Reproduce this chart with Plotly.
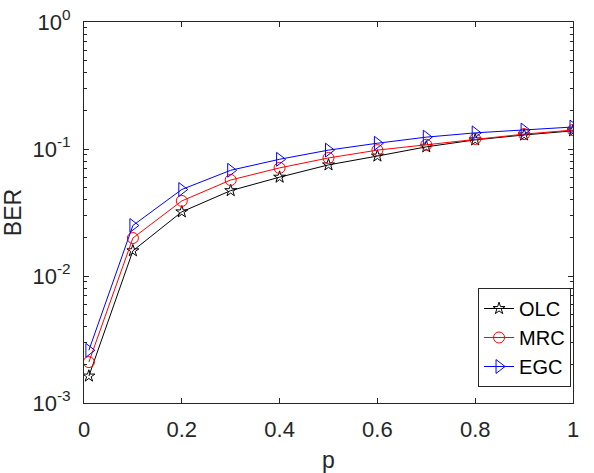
import plotly.graph_objects as go

p = [0.01, 0.1, 0.2, 0.3, 0.4, 0.5, 0.6, 0.7, 0.8, 0.9, 1.0]
ber_olc = [1.63e-3, 0.0158, 0.032, 0.047, 0.060, 0.075, 0.088, 0.104, 0.118, 0.129, 0.139]
ber_mrc = [2.1e-3, 0.0199, 0.039, 0.057, 0.071, 0.085, 0.098, 0.108, 0.120, 0.131, 0.141]
ber_egc = [2.6e-3, 0.025, 0.048, 0.068, 0.083, 0.098, 0.111, 0.124, 0.134, 0.141, 0.149]

x_ticks = [0, 0.2, 0.4, 0.6, 0.8, 1]
x_ticktext = ["0", "0.2", "0.4", "0.6", "0.8", "1"]
y_ticks = [1e-3, 1e-2, 1e-1, 1e0]
y_ticktext = ["10<sup>-3</sup>", "10<sup>-2</sup>", "10<sup>-1</sup>", "10<sup>0</sup>"]

minor_y = [m * 10 ** e for e in (-3, -2, -1) for m in range(2, 10)]

fig = go.Figure()
series = [
    ("OLC", ber_olc, "black", "star-open", 9),
    ("MRC", ber_mrc, "red", "circle-open", 11),
    ("EGC", ber_egc, "blue", "triangle-right-open", 12),
]
for name, y, c, sym, sz in series:
    fig.add_trace(go.Scatter(
        x=p, y=y, name=name, mode="lines+markers",
        line=dict(color=c, width=1),
        marker=dict(symbol=sym, size=sz, color=c, line=dict(color=c, width=1)),
    ))

font = "Liberation Sans, Arial, Helvetica, sans-serif"
fig.update_layout(
    width=594, height=473,
    margin=dict(l=84, r=21, t=22, b=70),
    paper_bgcolor="white", plot_bgcolor="white",
    font=dict(family=font, size=22, color="#262626"),
    showlegend=True,
    legend=dict(
        x=0.996, y=0.042, xanchor="right", yanchor="bottom",
        bgcolor="white", bordercolor="#262626", borderwidth=1,
        font=dict(size=20, color="black"),
        tracegroupgap=0, itemwidth=30,
    ),
    xaxis=dict(
        range=[0, 1], tickvals=x_ticks, ticktext=x_ticktext, automargin=False,
        ticks="inside", ticklen=5, tickcolor="#262626", ticklabelstandoff=7,
        showline=True, linecolor="#262626", linewidth=1, mirror="ticks",
        showgrid=False, zeroline=False,
        title=dict(text="p", font=dict(size=23), standoff=12),
    ),
    yaxis=dict(
        type="log", range=[-3, 0], tickvals=y_ticks, ticktext=y_ticktext, automargin=False,
        ticks="inside", ticklen=5, tickcolor="#262626", ticklabelstandoff=8,
        showline=True, linecolor="#262626", linewidth=1, mirror="ticks",
        showgrid=False, zeroline=False,
        minor=dict(tickvals=minor_y, ticks="inside", ticklen=3, tickcolor="#262626", showgrid=False),
        title=dict(text="BER", font=dict(size=23), standoff=6),
    ),
)

fig.write_html("out.html")
